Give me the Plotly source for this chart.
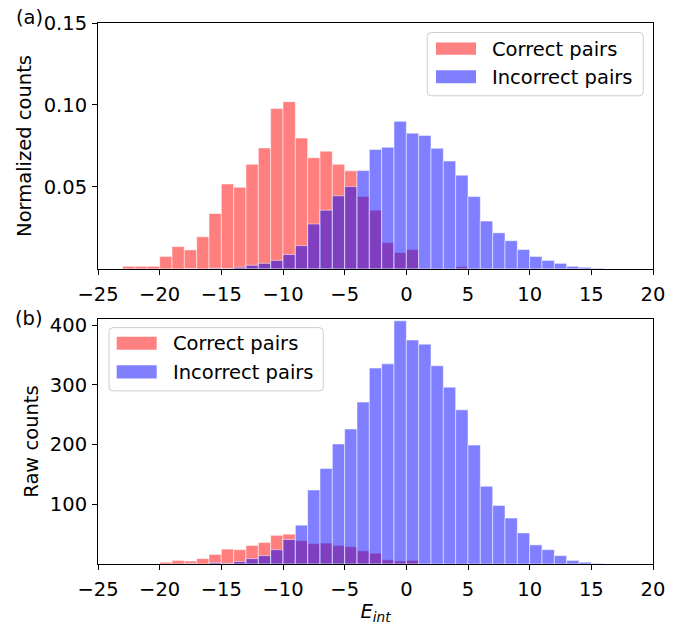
import plotly.graph_objects as go

# Histogram bins: left edges of unit-width bins of E_int
bin_left = list(range(-23, 16))

# (a) normalized counts per bin
norm_correct = [0.0016, 0.0016, 0.0016, 0.0076, 0.0136, 0.0116, 0.0196, 0.0338,
                0.0518, 0.0498, 0.0638, 0.0738, 0.0978, 0.1020, 0.0798, 0.0678,
                0.0718, 0.0638, 0.0598, 0.0442, 0.0358, 0.0160, 0.0100, 0.0118,
                0, 0, 0, 0.0014, 0, 0, 0, 0, 0, 0, 0, 0, 0, 0, 0]
norm_incorrect = [0, 0, 0, 0, 0, 0.0002, 0, 0.0004, 0.0002, 0.0010, 0.0022,
                  0.0034, 0.0052, 0.0088, 0.0142, 0.0274, 0.0358, 0.0446, 0.0502,
                  0.0600, 0.0728, 0.0742, 0.0900, 0.0828, 0.0814, 0.0736, 0.0658,
                  0.0572, 0.0442, 0.0292, 0.0220, 0.0172, 0.0118, 0.0076, 0.0052,
                  0.0034, 0.0016, 0.0010, 0.0004]

# (b) raw counts per bin
raw_correct = [0, 0, 0, 3, 6, 5, 9, 16, 25, 24, 31, 36, 48, 50, 39, 34, 35, 31,
               29, 22, 18, 7, 5, 6, 0, 0, 0, 1, 0, 0, 0, 0, 0, 0, 0, 0, 0, 0, 0]
raw_incorrect = [0, 0, 0, 0, 0, 1, 0, 2, 1, 4, 9, 14, 24, 41, 65, 124, 160, 201,
                 226, 271, 328, 335, 407, 375, 368, 332, 296, 258, 199, 130, 98,
                 77, 52, 32, 24, 14, 6, 3, 1]

series_names = ["Correct pairs", "Incorrect pairs"]
fill_colors = ["rgba(255,0,0,0.5)", "rgba(0,0,255,0.5)"]
patch_colors = ["#ff8080", "#8080ff"]

x_ticks = [-25, -20, -15, -10, -5, 0, 5, 10, 15, 20]
top_ticks = [0.05, 0.10, 0.15]
bottom_ticks = [100, 200, 300, 400]

W, H = 685, 630
ML, MR, MT, MB = 98, 32, 22, 58
PW, PH = W - ML - MR, H - MT - MB
FONT = "DejaVu Sans"
FS = 19.5


def px_x(p):
    return (p - ML) / PW


def px_y(p):
    return (H - MB - p) / PH


def blank_zero(vals):
    return [v if v else None for v in vals]


fig = go.Figure()

panels = [("x", "y", [norm_correct, norm_incorrect]),
          ("x2", "y2", [raw_correct, raw_incorrect])]
for xa, ya, series in panels:
    for name, vals, col in zip(series_names, series, fill_colors):
        fig.add_trace(go.Bar(
            x=bin_left, y=blank_zero(vals), width=1, offset=0,
            name=name, showlegend=False, hoverinfo="skip",
            marker=dict(color=col, line=dict(color="rgba(255,255,255,0.5)", width=1)),
            xaxis=xa, yaxis=ya,
        ))

axis_common = dict(
    showline=True, linecolor="black", linewidth=1, mirror=True,
    ticks="outside", ticklen=5, tickwidth=1, tickcolor="black",
    showgrid=False, zeroline=False,
    tickfont=dict(family=FONT, size=FS, color="black"),
)

top_domain = [px_y(272), 1.0]
bottom_domain = [0.0, px_y(323)]

fig.update_layout(
    width=W, height=H,
    margin=dict(l=ML, r=MR, t=MT, b=MB),
    paper_bgcolor="white", plot_bgcolor="white",
    barmode="overlay",
    font=dict(family=FONT, size=FS, color="black"),
    xaxis=dict(axis_common, range=[-25, 20], tickvals=x_ticks, anchor="y",
               domain=[0, 1], ticklabelstandoff=3),
    yaxis=dict(axis_common, range=[0, 0.15], tickvals=top_ticks,
               tickformat=".2f", domain=top_domain, anchor="x",
               ticklabelstandoff=1,
               title=dict(text="Normalized counts", standoff=6,
                          font=dict(family=FONT, size=FS))),
    xaxis2=dict(axis_common, range=[-25, 20], tickvals=x_ticks, anchor="y2",
                domain=[0, 1], ticklabelstandoff=3,
                title=dict(text="<i>E<sub>int</sub></i>", standoff=3,
                           font=dict(family=FONT, size=FS))),
    yaxis2=dict(axis_common, range=[0, 410], tickvals=bottom_ticks,
                domain=bottom_domain, anchor="x2", ticklabelstandoff=1,
                title=dict(text="Raw counts", standoff=6,
                           font=dict(family=FONT, size=FS))),
)


def rounded_box(x0, y0, x1, y1, r=4):
    # rounded rectangle in pixel space, converted to paper coordinates
    path = (f"M {px_x(x0 + r)},{px_y(y0)} L {px_x(x1 - r)},{px_y(y0)} "
            f"Q {px_x(x1)},{px_y(y0)} {px_x(x1)},{px_y(y0 + r)} "
            f"L {px_x(x1)},{px_y(y1 - r)} "
            f"Q {px_x(x1)},{px_y(y1)} {px_x(x1 - r)},{px_y(y1)} "
            f"L {px_x(x0 + r)},{px_y(y1)} "
            f"Q {px_x(x0)},{px_y(y1)} {px_x(x0)},{px_y(y1 - r)} "
            f"L {px_x(x0)},{px_y(y0 + r)} "
            f"Q {px_x(x0)},{px_y(y0)} {px_x(x0 + r)},{px_y(y0)} Z")
    return dict(type="path", path=path, xref="paper", yref="paper",
                line=dict(color="#cccccc", width=1),
                fillcolor="rgba(255,255,255,0.8)", layer="above")


def add_legend(box, patch_x, rows, text_x):
    fig.add_shape(rounded_box(*box))
    for (y0, y1), name, col in zip(rows, series_names, patch_colors):
        fig.add_shape(type="rect", xref="paper", yref="paper",
                      x0=px_x(patch_x[0]), x1=px_x(patch_x[1]),
                      y0=px_y(y1), y1=px_y(y0),
                      fillcolor=col, line=dict(width=0), layer="above")
        fig.add_annotation(x=px_x(text_x), y=px_y((y0 + y1) / 2 + 0.5),
                           xref="paper", yref="paper", text=name,
                           showarrow=False, xanchor="left", yanchor="middle",
                           font=dict(family=FONT, size=FS, color="black"))


add_legend((427.3, 31.7, 643.3, 96), (436, 476),
           [(41.7, 54.3), (70, 83.3)], 490)
add_legend((109, 331.7, 323.3, 396), (116.7, 156.7),
           [(341, 354.3), (370, 383.3)], 171)

# panel labels
for label, py in [("(a)", 16), ("(b)", 322)]:
    fig.add_annotation(x=px_x(29), y=px_y(py), xref="paper", yref="paper",
                       text=label, showarrow=False, xanchor="center",
                       yanchor="middle",
                       font=dict(family=FONT, size=FS, color="black"))

fig.write_html("out.html")
